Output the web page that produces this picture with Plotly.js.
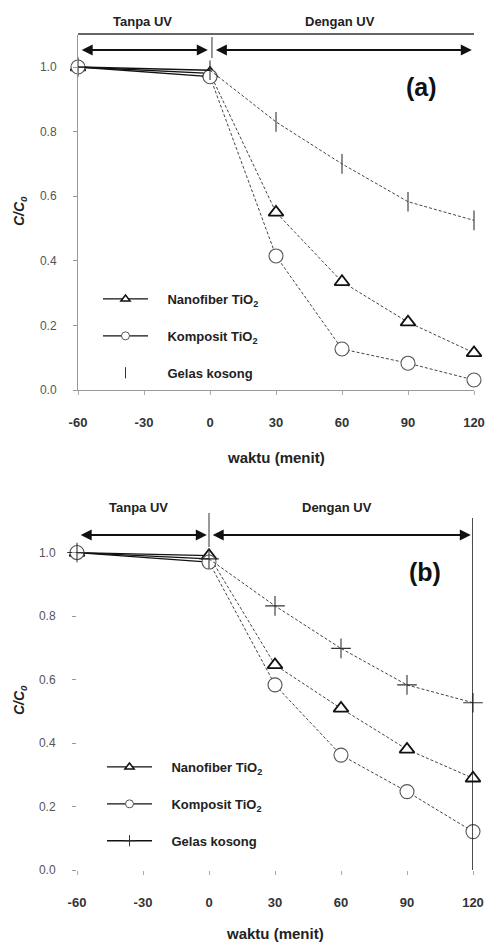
<!DOCTYPE html>
<html>
<head>
<meta charset="utf-8">
<script src="https://cdn.plot.ly/plotly-3.0.1.min.js"></script>
<style>html,body{margin:0;padding:0;background:#fff;}#chart{width:489px;height:945px;}</style>
</head>
<body>
<div id="chart"></div>
<script>
// Data
const waktu = [-60, 0, 30, 60, 90, 120];
const xTicks = [-60, -30, 0, 30, 60, 90, 120];
const yTicks = [0, 0.2, 0.4, 0.6, 0.8, 1.0];
const yTickText = ['0.0', '0.2', '0.4', '0.6', '0.8', '1.0'];
const seriesNames = ['Nanofiber TiO<sub>2</sub>', 'Komposit TiO<sub>2</sub>', 'Gelas kosong'];

const aNanofiber = [1.00, 0.98, 0.55, 0.335, 0.21, 0.115];
const aKomposit  = [1.00, 0.97, 0.415, 0.127, 0.083, 0.031];
const aGelas     = [1.00, 0.99, 0.83, 0.70, 0.583, 0.525];

const bNanofiber = [1.00, 0.99, 0.646, 0.509, 0.38, 0.289];
const bKomposit  = [1.00, 0.97, 0.583, 0.362, 0.247, 0.121];
const bGelas     = [1.00, 0.98, 0.832, 0.698, 0.583, 0.527];

const FONT = 'Liberation Sans, Arial, sans-serif';
const W = 489, H = 945;
const px = v => v / W;
const py = v => (H - v) / H;

const markerStyles = {
  a: [
    {symbol: 'triangle-up', size: 13, color: '#fff', line: {width: 1.8, color: '#111'}},
    {symbol: 'circle', size: 14, color: '#fff', line: {width: 1.1, color: '#555'}},
    {symbol: 'line-ns-open', size: 14, color: '#333', line: {width: 1.1, color: '#333'}}
  ],
  b: [
    {symbol: 'triangle-up', size: 13, color: '#fff', line: {width: 1.8, color: '#111'}},
    {symbol: 'circle', size: 14, color: '#fff', line: {width: 1.1, color: '#555'}},
    {symbol: 'cross-thin-open', size: 14, color: '#333', line: {width: 1.1, color: '#333'}}
  ]
};

const traces = [];
function addSeries(panel, idx, values, xa, ya, legendName, markerOnlyLegend) {
  const m = markerStyles[panel][idx];
  const solidX = waktu.slice(0, 2), solidY = values.slice(0, 2);
  const dashX = waktu.slice(1), dashY = values.slice(1);
  traces.push({x: solidX, y: solidY, xaxis: xa, yaxis: ya, mode: 'lines',
    line: {color: '#111', width: 1.3}, showlegend: false, hoverinfo: 'skip'});
  traces.push({x: dashX, y: dashY, xaxis: xa, yaxis: ya, mode: 'lines',
    line: {color: '#444', width: 1, dash: '3px,2px'}, showlegend: false, hoverinfo: 'skip'});
  traces.push({x: waktu, y: values, xaxis: xa, yaxis: ya, mode: 'markers', marker: m,
    showlegend: false, cliponaxis: false});
  // legend-only entry (no points drawn)
  const lm = Object.assign({}, m, {size: 8, line: Object.assign({}, m.line, {width: m.line.width > 1.5 ? 1.5 : 1})});
  traces.push({x: [null], y: [null], xaxis: xa, yaxis: ya,
    mode: markerOnlyLegend ? 'markers' : 'lines+markers',
    name: '\u00a0\u00a0\u00a0\u00a0' + seriesNames[idx],
    line: {color: '#111', width: 1.3}, marker: lm, showlegend: true,
    legend: legendName, legendgroup: panel + idx});
}
addSeries('a', 0, aNanofiber, 'x', 'y', 'legend', false);
addSeries('a', 1, aKomposit, 'x', 'y', 'legend', false);
addSeries('a', 2, aGelas, 'x', 'y', 'legend', true);
addSeries('b', 0, bNanofiber, 'x2', 'y2', 'legend2', false);
addSeries('b', 1, bKomposit, 'x2', 'y2', 'legend2', false);
addSeries('b', 2, bGelas, 'x2', 'y2', 'legend2', false);

const xTickFont = {family: FONT, size: 13, color: '#333', weight: 'bold'};
const yTickFont = {family: FONT, size: 12, color: '#555'};

function xAxis(domain, showline, anchor) {
  return {domain: domain, range: [-60, 120], anchor: anchor, tickmode: 'array', tickvals: xTicks,
    ticktext: xTicks.map(String), showgrid: false, zeroline: false, showline: showline,
    linecolor: '#999', linewidth: 1, ticks: 'outside', ticklen: 4, tickcolor: '#aaa',
    tickfont: xTickFont, ticklabelstandoff: 16, fixedrange: true};
}
function yAxis(domain, showline, anchor) {
  return {domain: domain, range: [0, 1.1], anchor: anchor, tickmode: 'array', tickvals: yTicks,
    ticktext: yTickText, showgrid: false, zeroline: false, showline: showline,
    linecolor: '#999', linewidth: 1, ticks: 'outside', ticklen: 4, tickcolor: '#999',
    tickfont: yTickFont, ticklabelstandoff: 14, fixedrange: true};
}

const legendCommon = {
  font: {family: FONT, size: 13, color: '#222', weight: 'bold'},
  bgcolor: 'rgba(0,0,0,0)', borderwidth: 0, traceorder: 'grouped', tracegroupgap: 17,
  itemwidth: 45, xanchor: 'left', yanchor: 'top'
};

const arrowCommon = {text: '', showarrow: true, arrowside: 'end+start', arrowhead: 2, arrowsize: 1.1,
  arrowwidth: 2, arrowcolor: '#111', standoff: 0, startstandoff: 0};

const textFont = {family: FONT, size: 13, color: '#222', weight: 'bold'};
function label(x, y, text, font, extra) {
  return Object.assign({xref: 'paper', yref: 'paper', x: px(x), y: py(y), text: text, showarrow: false,
    xanchor: 'center', yanchor: 'middle', font: font}, extra || {});
}

const bigFont = {family: FONT, size: 25, color: '#111', weight: 'bold'};
const xTitleFont = {family: FONT, size: 15, color: '#222', weight: 'bold'};
const yTitleFont = {family: FONT, size: 14, color: '#222', weight: 'bold'};

const annotations = [
  // panel (a)
  Object.assign({}, arrowCommon, {xref: 'x', yref: 'paper', axref: 'x', ayref: 'paper', x: -1, y: py(50), ax: -59, ay: py(50)}),
  Object.assign({}, arrowCommon, {xref: 'x', yref: 'paper', axref: 'x', ayref: 'paper', x: 119, y: py(50), ax: 2, ay: py(50)}),
  label(142, 21, 'Tanpa UV', textFont),
  label(340, 21, 'Dengan UV', textFont),
  label(421, 87, '(a)', bigFont),
  label(276, 457, 'waktu (menit)', xTitleFont),
  label(20, 211, '<i>C/C<sub>0</sub></i>', yTitleFont, {textangle: -90}),
  // panel (b)
  Object.assign({}, arrowCommon, {xref: 'x2', yref: 'paper', axref: 'x2', ayref: 'paper', x: -1, y: py(535), ax: -59, ay: py(535)}),
  Object.assign({}, arrowCommon, {xref: 'x2', yref: 'paper', axref: 'x2', ayref: 'paper', x: 119, y: py(535), ax: 1, ay: py(535)}),
  label(138, 507, 'Tanpa UV', textFont),
  label(337, 507, 'Dengan UV', textFont),
  label(425, 572, '(b)', bigFont),
  label(275, 933, 'waktu (menit)', xTitleFont),
  label(20, 700, '<i>C/C<sub>0</sub></i>', yTitleFont, {textangle: -90})
];

const shapes = [
  {type: 'line', xref: 'x', yref: 'paper', x0: -60, x1: 120, y0: py(34), y1: py(34), line: {color: '#333', width: 1.3}},
  {type: 'line', xref: 'x', yref: 'paper', x0: 0.9, x1: 0.9, y0: py(37), y1: py(58), line: {color: '#333', width: 1}},
  {type: 'line', xref: 'x2', yref: 'paper', x0: 0, x1: 0, y0: py(513), y1: py(547), line: {color: '#333', width: 1}},
  {type: 'line', xref: 'x2', yref: 'paper', x0: 120, x1: 120, y0: py(518), y1: py(870), line: {color: '#111', width: 1.5}}
];

const layout = {
  width: W, height: H,
  margin: {l: 0, r: 0, t: 0, b: 0},
  paper_bgcolor: '#fff', plot_bgcolor: '#fff',
  font: {family: FONT},
  xaxis: xAxis([px(78), px(474)], true, 'y'),
  yaxis: yAxis([py(390), py(34.7)], true, 'x'),
  xaxis2: xAxis([px(77), px(473)], false, 'y2'),
  yaxis2: yAxis([py(870), py(520.8)], false, 'x2'),
  legend: Object.assign({}, legendCommon, {x: px(98), y: py(284)}),
  legend2: Object.assign({}, legendCommon, {x: px(102), y: py(752)}),
  annotations: annotations,
  shapes: shapes,
  showlegend: true
};

Plotly.newPlot('chart', traces, layout, {staticPlot: true, displayModeBar: false});
</script>
</body>
</html>
